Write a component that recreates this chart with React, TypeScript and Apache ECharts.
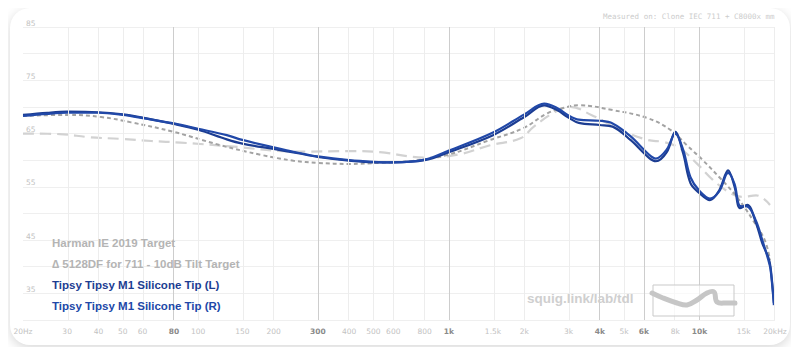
import React, { useEffect, useRef } from "react";
import * as echarts from "echarts";

// Frequency ticks (Hz) and labels
const xTickFreqs = [20, 30, 40, 50, 60, 80, 100, 150, 200, 300, 400, 500, 600, 800, 1000, 1500, 2000, 3000, 4000, 5000, 6000, 8000, 10000, 15000, 20000];
const xTickLabels = ["20Hz", "30", "40", "50", "60", "80", "100", "150", "200", "300", "400", "500", "600", "800", "1k", "1.5k", "2k", "3k", "4k", "5k", "6k", "8k", "10k", "15k", "20kHz"];
const boldTicks = ["80", "300", "1k", "4k", "6k", "10k"];

// Harman IE 2019 Target
const harmanFreq = [20, 28, 37, 49, 65, 85, 134, 250, 400, 530, 800, 1100, 1460, 1930, 2170, 2600, 3050, 3700, 4900, 6200, 7200, 8300, 9700, 11300, 13300, 14800, 16800, 19100];
const harmanDb = [65.0, 64.9, 64.3, 64.0, 63.6, 63.3, 62.6, 61.6, 61.7, 61.5, 60.5, 61.1, 62.8, 64.1, 66.2, 68.8, 70.0, 68.5, 65.6, 63.8, 63.4, 62.3, 59.5, 56.3, 53.8, 53.1, 53.4, 51.6];

// Δ 5128DF for 711 - 10dB Tilt Target
const tiltFreq = [20, 30, 41, 54, 80, 123, 178, 240, 300, 400, 530, 720, 990, 1460, 1980, 2470, 2970, 3300, 4500, 6200, 7700, 8900, 10300, 12100, 14100, 16300, 18200, 19100];
const tiltDb = [68.3, 68.5, 68.1, 67.1, 65.3, 62.8, 61.0, 59.9, 59.5, 59.3, 59.5, 59.9, 61.0, 63.8, 66.0, 68.8, 70.0, 70.3, 69.4, 67.9, 65.6, 62.8, 60.0, 56.6, 53.1, 48.8, 45.0, 41.3];

// Tipsy M1 measurements
const iemFreq = [20, 25, 30, 40, 50, 60, 80, 100, 130, 150, 200, 250, 300, 400, 500, 600, 800, 1000, 1500, 2000, 2400, 2700, 3000, 3300, 4000, 4500, 5300, 6300, 6700, 7400, 8000, 8600, 9200, 10000, 11000, 12000, 13000, 13800, 14500, 15500, 16800, 17800, 18800, 19200, 19800];
const leftDb = [68.5, 68.9, 69.1, 69.0, 68.6, 68.0, 66.8, 65.7, 63.9, 63.1, 62.1, 61.3, 60.6, 59.9, 59.6, 59.6, 60.0, 61.5, 64.7, 68.1, 70.3, 69.4, 68.0, 67.0, 66.6, 66.3, 63.8, 60.4, 59.8, 61.5, 65.3, 61.3, 55.7, 53.8, 52.5, 54.4, 58.1, 55.0, 51.0, 51.6, 48.2, 44.4, 41.8, 39.9, 33.2];
const rightDb = [68.3, 68.7, 68.9, 68.9, 68.5, 67.9, 66.9, 65.9, 64.7, 63.8, 62.4, 61.4, 60.7, 60.0, 59.7, 59.6, 60.1, 61.8, 65.2, 68.6, 70.6, 69.8, 68.4, 67.6, 67.4, 66.9, 64.5, 61.0, 60.3, 62.0, 65.0, 62.0, 56.8, 54.2, 52.8, 54.2, 57.6, 55.5, 51.4, 51.3, 48.6, 45.0, 41.3, 39.5, 32.8];

const legendNames = [
  "Harman IE 2019 Target",
  "\u2206 5128DF for 711 - 10dB Tilt Target",
  "Tipsy Tipsy M1 Silicone Tip (L)",
  "Tipsy Tipsy M1 Silicone Tip (R)",
];
const legendColors = ["#b4b4b4", "#b4b4b4", "#1c3d92", "#2148a8"];

const lg = (f: number) => Math.log10(f);
const pairs = (fs: number[], ds: number[]) => fs.map((f, i) => [lg(f), ds[i]]);

export default function App() {
  const ref = useRef<HTMLDivElement>(null);
  useEffect(() => {
    if (!ref.current) return;
    const chart = echarts.init(ref.current, undefined, { renderer: "svg" });
    const logTicks = xTickFreqs.map(lg);
    const labelFor = (v: number) => {
      let best = 0;
      let bd = Infinity;
      logTicks.forEach((t, i) => {
        const d = Math.abs(t - v);
        if (d < bd) { bd = d; best = i; }
      });
      const s = xTickLabels[best];
      return boldTicks.includes(s) ? `{b|${s}}` : `{n|${s}}`;
    };
    const option: any = {
      animation: false,
      backgroundColor: "transparent",
      grid: { left: 23, right: 24, top: 27, bottom: 35 },
      xAxis: {
        type: "value",
        min: lg(20),
        max: lg(20000),
        axisLine: { show: false },
        axisTick: { show: false },
        splitLine: { show: false },
        axisLabel: {
          customValues: logTicks,
          formatter: labelFor,
          margin: 7,
          rich: {
            n: { fontSize: 7.5, color: "#c2c2c2", fontFamily: "DejaVu Sans" },
            b: { fontSize: 7.5, color: "#8a8a8a", fontWeight: "bold", fontFamily: "DejaVu Sans" },
          },
        },
      },
      yAxis: {
        type: "value",
        min: 30,
        max: 85,
        interval: 5,
        axisLine: { show: false },
        axisTick: { show: false },
        splitLine: { lineStyle: { color: "#efefef", width: 1 } },
        axisLabel: {
          inside: true,
          margin: 3,
          verticalAlign: "bottom",
          fontSize: 7.5,
          color: "#c2c2c2",
          fontFamily: "DejaVu Sans",
          formatter: (v: number) => (v % 10 === 5 ? String(v) : ""),
        },
      },
      series: [
        {
          type: "line",
          name: "grid",
          data: [],
          z: 1,
          silent: true,
          markLine: {
            silent: true,
            symbol: ["none", "none"],
            label: { show: false },
            data: xTickFreqs.map((f, i) => ({
              xAxis: lg(f),
              lineStyle: {
                color: boldTicks.includes(xTickLabels[i]) ? "#cdcdcd" : "#ededed",
                width: 1,
                type: "solid",
              },
            })),
          },
        },
        {
          type: "line",
          name: legendNames[0],
          data: pairs(harmanFreq, harmanDb),
          smooth: 0.4,
          showSymbol: false,
          z: 3,
          lineStyle: { color: "#d2d2d2", width: 2.2, type: [11, 6] },
        },
        {
          type: "line",
          name: legendNames[1],
          data: pairs(tiltFreq, tiltDb),
          smooth: 0.4,
          showSymbol: false,
          z: 3,
          lineStyle: { color: "#a3a3a3", width: 2, type: [4, 3] },
        },
        {
          type: "line",
          name: legendNames[2],
          data: pairs(iemFreq, leftDb),
          smooth: 0.35,
          showSymbol: false,
          z: 4,
          lineStyle: { color: legendColors[2], width: 2.2 },
        },
        {
          type: "line",
          name: legendNames[3],
          data: pairs(iemFreq, rightDb),
          smooth: 0.35,
          showSymbol: false,
          z: 4,
          lineStyle: { color: legendColors[3], width: 2.2 },
        },
      ],
      graphic: [
        ...legendNames.map((n, i) => ({
          type: "text",
          left: 52,
          top: 237 + i * 21,
          z: 10,
          style: {
            text: n,
            fill: legendColors[i],
            font: "bold 11.5px 'Liberation Sans', Arial, sans-serif",
          },
        })),
        {
          type: "text",
          left: 603,
          top: 12,
          style: {
            text: "Measured on: Clone IEC 711 + C8000x mm",
            fill: "#cccccc",
            font: "7.5px 'DejaVu Sans Mono', monospace",
          },
        },
        {
          type: "text",
          left: 527,
          top: 291,
          z: 10,
          style: {
            text: "squig.link/lab/tdl",
            fill: "#cfcfcf",
            font: "bold 13.5px 'Liberation Sans', Arial, sans-serif",
          },
        },
        {
          type: "rect",
          z: 10,
          shape: { x: 653, y: 285, width: 81, height: 31 },
          style: { fill: "rgba(255,255,255,0.6)", stroke: "#c9c9c9", lineWidth: 1 },
        },
        {
          type: "polyline",
          z: 11,
          shape: {
            points: [[652, 293], [663, 298], [677, 303], [687, 305], [697, 300], [707, 293], [714, 292], [717, 302], [727, 303], [735, 303]],
            smooth: 0.4,
          },
          style: { stroke: "#c6c6c6", lineWidth: 5, fill: "none", lineCap: "round" },
        },
      ],
    };
    chart.setOption(option);
    return () => chart.dispose();
  }, []);

  return (
    <div style={{ position: "relative", width: 799, height: 355, margin: -8, background: "#ffffff" }}>
      <div
        style={{
          position: "absolute",
          left: 10,
          top: 8,
          width: 780,
          height: 337,
          borderRadius: 20,
          background: "#ffffff",
          boxShadow: "0 3px 12px rgba(0,0,0,0.16)",
        }}
      />
      <div ref={ref} style={{ position: "absolute", left: 0, top: 0, width: 799, height: 355 }} />
    </div>
  );
}
